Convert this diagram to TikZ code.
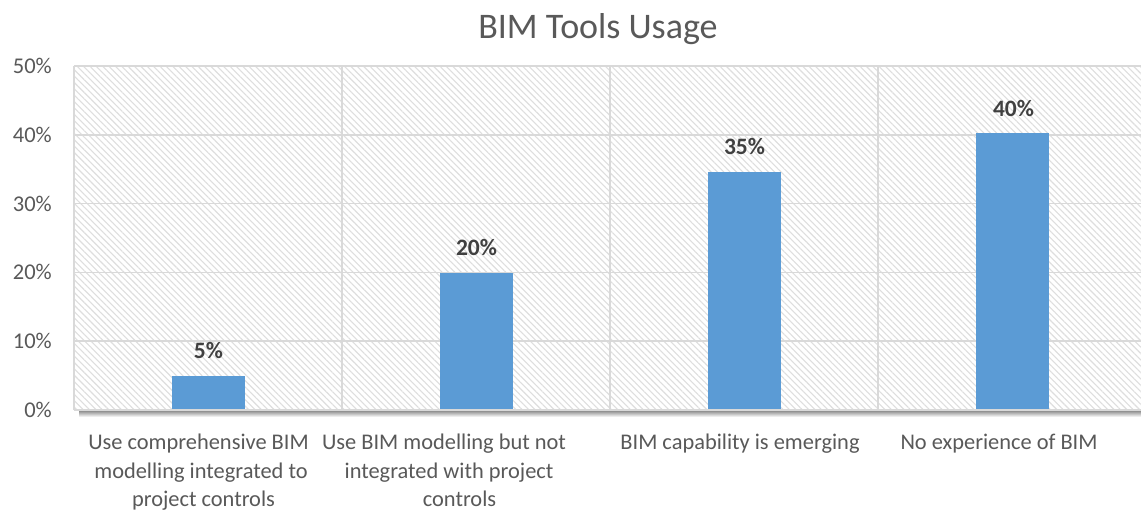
\documentclass[tikz,border=0pt]{standalone}
\usepackage{fontspec}
\setmainfont{Carlito}
\usetikzlibrary{patterns.meta}
\definecolor{barblue}{HTML}{5B9BD5}
\definecolor{gridgray}{HTML}{D9D9D9}
\definecolor{hatchgray}{HTML}{DEDEDE}
\definecolor{txtgray}{HTML}{595959}
\definecolor{lblgray}{HTML}{404040}
\begin{document}
\begin{tikzpicture}[x=1pt,y=-1pt,
  bar/.style={fill=barblue,draw=none,minimum width=73pt,inner sep=0pt,anchor=south},
  gridline/.style={draw=gridgray,line width=1.6pt},
  ticklbl/.style={text=txtgray,font=\fontsize{22.5}{26}\selectfont,anchor=east,inner sep=0pt},
  catlbl/.style={text=txtgray,font=\fontsize{22.4}{26}\selectfont,anchor=base,inner sep=0pt},
  datalbl/.style={text=lblgray,font=\bfseries\fontsize{23.5}{26}\selectfont,anchor=base,inner sep=0pt},
  titlelbl/.style={text=txtgray,font=\fontsize{36}{40}\selectfont,anchor=base,inner sep=0pt}]
\useasboundingbox (0,0) rectangle (1141,511);
\fill[white] (0,0) rectangle (1141,511);
% shadow under plot area
\shade[top color=black!50, bottom color=white] (79,410) rectangle (1141,417);
% hatched plot area
\fill[white] (74,66) rectangle (1141,410);
\fill[pattern={Lines[angle=-45,distance=4.5pt,line width=1.1pt]}, pattern color=hatchgray] (74,66) rectangle (1141,410);
% grid
\foreach \yy in {66,134.8,203.6,272.4,341.2} \draw[gridline] (74,\yy) -- (1141,\yy);
\foreach \xx in {74,342,610,878} \draw[gridline] (\xx,66) -- (\xx,410);
% bars
\node[bar,minimum height=34pt]  (b1) at (208.5,410) {};
\node[bar,minimum height=137pt] (b2) at (476.5,410) {};
\node[bar,minimum height=238pt] (b3) at (744.5,410) {};
\node[bar,minimum height=277pt] (b4) at (1012.5,410) {};
% axis
\draw[gridline] (74,410) -- (1141,410);
% data labels
\node[datalbl] (d1) at (208.5,358) {5\%};
\node[datalbl] (d2) at (476.5,255) {20\%};
\node[datalbl] (d3) at (744.5,154) {35\%};
\node[datalbl] (d4) at (1013.5,116) {40\%};
% y tick labels
\node[ticklbl] (y0) at (52,410) {0\%};
\node[ticklbl] (y1) at (52,341.2) {10\%};
\node[ticklbl] (y2) at (52,272.4) {20\%};
\node[ticklbl] (y3) at (52,203.6) {30\%};
\node[ticklbl] (y4) at (52,134.8) {40\%};
\node[ticklbl] (y5) at (52,66) {50\%};
% title
\node[titlelbl] (title) at (598,39) {BIM Tools Usage};
% category labels
\node[catlbl] (c1a) at (198.5,449) {Use comprehensive BIM};
\node[catlbl] (c1b) at (201,478) {modelling integrated to};
\node[catlbl] (c1c) at (203.5,506) {project controls};
\node[catlbl] (c2a) at (444,449) {Use BIM modelling but not};
\node[catlbl] (c2b) at (449,478) {integrated with project};
\node[catlbl] (c2c) at (459.5,506) {controls};
\node[catlbl] (c3a) at (740,449) {BIM capability is emerging};
\node[catlbl] (c4a) at (999,449) {No experience of BIM};
\end{tikzpicture}
\end{document}
